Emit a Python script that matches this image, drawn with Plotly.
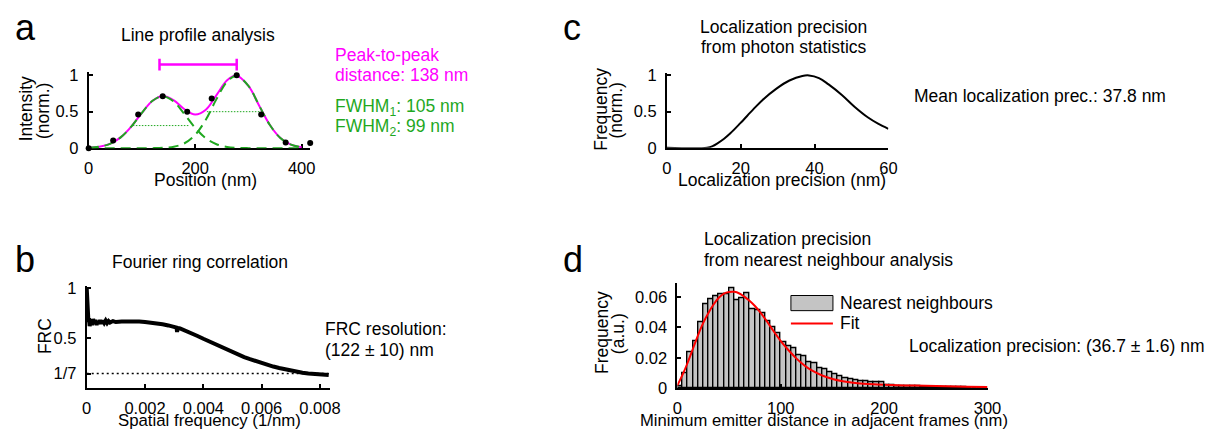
import plotly.graph_objects as go

W, H = 1224, 444
FONT = "Liberation Sans, Arial, sans-serif"

# ---------------- data: panel a (line profile) ----------------
profile_pos = [0, 46, 93, 139, 185, 231, 278, 324, 370, 416]
profile_int = [0.0, 0.105, 0.46, 0.71, 0.50, 0.68, 1.0, 0.46, 0.08, 0.07]
fit_pos = [0, 20, 40, 60, 80, 100, 120, 139, 160, 180, 200, 220, 240, 260, 277, 300, 320, 340, 360, 380, 400]
fit_sum = [0.006, 0.02, 0.06, 0.148, 0.296, 0.485, 0.649, 0.715, 0.656, 0.533, 0.462, 0.527, 0.727, 0.93, 0.996, 0.854, 0.586, 0.321, 0.14, 0.049, 0.013]
fit_peak1 = [0.006, 0.02, 0.06, 0.148, 0.296, 0.485, 0.649, 0.71, 0.636, 0.465, 0.279, 0.137, 0.055, 0.018, 0.006, 0.001, 0.0, 0.0, 0.0, 0.0, 0.0]
fit_peak2 = [0.0, 0.0, 0.0, 0.0, 0.0, 0.0, 0.001, 0.005, 0.02, 0.068, 0.183, 0.39, 0.672, 0.912, 0.99, 0.853, 0.586, 0.321, 0.14, 0.049, 0.013]
fwhm1_x = [83, 188]
fwhm1_y = 0.31
fwhm2_x = [222, 321]
fwhm2_y = 0.5
ptp_bar_x = [133, 278]
ptp_bar_level = 1.145

# ---------------- data: panel b (FRC) ----------------
frc_freq = [0, 0.00002, 0.00004, 0.00006, 0.00008, 0.0001, 0.00014, 0.00018, 0.00022, 0.00026,
            0.0003, 0.00034, 0.00038, 0.00042, 0.00046, 0.0005, 0.00055, 0.0006, 0.00065, 0.0007,
            0.00075, 0.0008, 0.0009, 0.001, 0.0012, 0.0014, 0.0016, 0.0018, 0.002, 0.0022,
            0.0024, 0.0026, 0.0028, 0.003, 0.00308, 0.0031, 0.00312, 0.0032, 0.0034, 0.0036,
            0.0038, 0.004, 0.0042, 0.0044, 0.0046, 0.0048, 0.005, 0.0052, 0.0054, 0.0056,
            0.0058, 0.006, 0.0062, 0.0064, 0.0066, 0.0068, 0.007, 0.0072, 0.0074, 0.0076,
            0.0078, 0.008, 0.0082, 0.0083]
frc_val = [1.0, 0.85, 0.72, 0.66, 0.70, 0.62, 0.68, 0.63, 0.69, 0.64,
           0.68, 0.63, 0.67, 0.64, 0.68, 0.645, 0.675, 0.65, 0.675, 0.65,
           0.67, 0.655, 0.67, 0.66, 0.665, 0.668, 0.667, 0.665, 0.66, 0.655,
           0.648, 0.638, 0.626, 0.612, 0.605, 0.56, 0.60, 0.595, 0.572, 0.548,
           0.52, 0.492, 0.465, 0.438, 0.41, 0.383, 0.357, 0.332, 0.308, 0.287,
           0.267, 0.249, 0.23, 0.213, 0.198, 0.184, 0.172, 0.161, 0.151, 0.144,
           0.139, 0.135, 0.131, 0.129]
frc_threshold = 1 / 7
frc_threshold_x = [0, 0.0083]

# ---------------- data: panel c (photon statistics) ----------------
prec_nm = [0, 10.9, 12.5, 13.6, 15.5, 17.2, 19.9, 23.4, 26.0, 29.6, 33.2, 36.7, 38.5, 41.2, 43.8, 47.4, 50.9, 54.5, 57.2, 60]
prec_freq = [0, 0, 0.025, 0.058, 0.125, 0.2, 0.34, 0.53, 0.665, 0.815, 0.93, 0.993, 1.0, 0.964, 0.876, 0.73, 0.564, 0.418, 0.333, 0.262]

# ---------------- data: panel d (nearest neighbour) ----------------
nn_bin_width = 5
nn_counts = [0.0015, 0.0100, 0.0240, 0.0310, 0.0435, 0.0555, 0.0585, 0.0605, 0.0615, 0.0620,
             0.0655, 0.0580, 0.0590, 0.0625, 0.0520, 0.0510, 0.0490, 0.0440, 0.0400, 0.0360,
             0.0300, 0.0280, 0.0265, 0.0215, 0.0210, 0.0170, 0.0165, 0.0135, 0.0125, 0.0105,
             0.0095, 0.0078, 0.0070, 0.0058, 0.0052, 0.0045, 0.0045, 0.0042, 0.0040, 0.0040,
             0.0022, 0.0020, 0.0018, 0.0016, 0.0015, 0.0013, 0.0012, 0.0011, 0.0010, 0.0010,
             0.0009, 0.0008, 0.0008, 0.0007, 0.0006, 0.0006, 0.0005, 0.0005, 0.0004, 0.0004]
nn_bin_centers = [nn_bin_width / 2 + nn_bin_width * i for i in range(len(nn_counts))]
nn_fit_x = [0, 5, 10, 15, 20, 25, 30, 35, 40, 45, 50, 55, 60, 65, 70, 75, 80, 85, 90, 95, 100,
            105, 110, 115, 120, 125, 130, 140, 150, 160, 170, 180, 190, 200, 220, 240, 260, 280, 300]
nn_fit_y = [0.002, 0.009, 0.017, 0.026, 0.035, 0.043, 0.0495, 0.055, 0.0594, 0.0622, 0.0632, 0.0633,
            0.0622, 0.060, 0.0573, 0.054, 0.050, 0.0455, 0.0405, 0.0357, 0.031, 0.027, 0.0232, 0.0197,
            0.0167, 0.014, 0.0118, 0.0085, 0.0062, 0.0047, 0.0037, 0.0031, 0.0027, 0.0024, 0.002,
            0.0017, 0.0014, 0.0011, 0.0009]

MAGENTA = "#ff00ff"
GREEN = "#1fa81f"
TXT = 17.5
LBL = 17.5
TICK = 16.5


def fx(px):
    return px / W


def fy(py):
    return 1 - py / H


def xaxis(l, r, rng, tickvals, anchor, ticktext=None, layer="above traces", standoff=4):
    d = dict(domain=[fx(l), fx(r)], range=rng, anchor=anchor, showline=True, linecolor="black",
             linewidth=2, ticks="inside", ticklen=4, tickwidth=1.5, tickcolor="black",
             tickvals=tickvals, showgrid=False, zeroline=False, layer=layer,
             ticklabelstandoff=standoff,
             tickfont=dict(size=TICK, color="black", family=FONT), fixedrange=True)
    if ticktext is not None:
        d["ticktext"] = ticktext
    return d


def yaxis(top, bottom, rng, tickvals, anchor, ticktext=None, layer="above traces"):
    d = xaxis(0, 1, rng, tickvals, anchor, ticktext, layer, standoff=5)
    d["domain"] = [fy(bottom), fy(top)]
    return d


fig = go.Figure()

# ---- panel a
fig.add_trace(go.Scatter(x=fit_pos, y=fit_sum, mode="lines", line=dict(color=MAGENTA, width=2, shape="spline"),
                         xaxis="x", yaxis="y", showlegend=False))
for g in (fit_peak1, fit_peak2):
    fig.add_trace(go.Scatter(x=fit_pos, y=g, mode="lines",
                             line=dict(color=GREEN, width=2, dash="10px,6px", shape="spline"),
                             xaxis="x", yaxis="y", showlegend=False))
fig.add_trace(go.Scatter(x=fwhm1_x, y=[fwhm1_y, fwhm1_y], mode="lines",
                         line=dict(color=GREEN, width=1, dash="1.5px,1.5px"), xaxis="x", yaxis="y", showlegend=False))
fig.add_trace(go.Scatter(x=fwhm2_x, y=[fwhm2_y, fwhm2_y], mode="lines",
                         line=dict(color=GREEN, width=1, dash="1.5px,1.5px"), xaxis="x", yaxis="y", showlegend=False))
fig.add_trace(go.Scatter(x=profile_pos, y=profile_int, mode="markers", marker=dict(color="black", size=6),
                         cliponaxis=False, xaxis="x", yaxis="y", showlegend=False))
cap = 0.08
fig.add_trace(go.Scatter(
    x=[ptp_bar_x[0], ptp_bar_x[0], None, ptp_bar_x[0], ptp_bar_x[1], None, ptp_bar_x[1], ptp_bar_x[1]],
    y=[ptp_bar_level - cap, ptp_bar_level + cap, None, ptp_bar_level, ptp_bar_level, None,
       ptp_bar_level - cap, ptp_bar_level + cap],
    mode="lines", line=dict(color=MAGENTA, width=2.5), xaxis="x5", yaxis="y5", showlegend=False))

# ---- panel b
fig.add_trace(go.Scatter(x=frc_threshold_x, y=[frc_threshold, frc_threshold], mode="lines",
                         line=dict(color="black", width=1.5, dash="2px,3px"), xaxis="x2", yaxis="y2", showlegend=False))
fig.add_trace(go.Scatter(x=frc_freq, y=frc_val, mode="lines", line=dict(color="black", width=4),
                         xaxis="x2", yaxis="y2", showlegend=False))

# ---- panel c
fig.add_trace(go.Scatter(x=prec_nm, y=prec_freq, mode="lines", line=dict(color="black", width=2, shape="spline"),
                         xaxis="x3", yaxis="y3", showlegend=False))

# ---- panel d
fig.add_trace(go.Bar(x=nn_bin_centers, y=nn_counts, width=nn_bin_width,
                     marker=dict(color="#c4c4c4", line=dict(color="black", width=1.4)),
                     xaxis="x4", yaxis="y4", name="Nearest neighbours", showlegend=False))
fig.add_trace(go.Scatter(x=nn_fit_x, y=nn_fit_y, mode="lines", line=dict(color="#ff0000", width=2, shape="spline"),
                         xaxis="x4", yaxis="y4", name="Fit", showlegend=False))

layout = dict(
    width=W, height=H, margin=dict(l=0, r=0, t=0, b=0), paper_bgcolor="white", plot_bgcolor="rgba(0,0,0,0)",
    font=dict(family=FONT, color="black", size=TXT), bargap=0,
    xaxis=xaxis(85, 310, [0, 416], [0, 200, 400], "y", layer="below traces"),
    yaxis=yaxis(67, 146.5, [0, 79.5 / 75.8], [0, 0.5, 1], "x", ["0", "0.5", "1"], layer="below traces"),
    xaxis5=dict(domain=[fx(85), fx(310)], range=[0, 416], anchor="y5", visible=False, fixedrange=True),
    yaxis5=dict(domain=[fy(146.5), fy(40)], range=[0, 106.5 / 75.8], anchor="x5", visible=False, fixedrange=True),
    xaxis2=xaxis(83, 330, [0, 0.00834], [0, 0.002, 0.004, 0.006, 0.008], "y2",
                 ["0", "0.002", "0.004", "0.006", "0.008"]),
    yaxis2=yaxis(289, 395, [0, 106 / 103.3], [frc_threshold, 0.5, 1], "x2", ["1/7", "0.5", "1"]),
    xaxis3=xaxis(672.3, 897.3, [0, 60], [0, 20, 40, 60], "y3"),
    yaxis3=yaxis(68, 146, [0, 78 / 75], [0, 0.5, 1], "x3", ["0", "0.5", "1"]),
    xaxis4=xaxis(683, 998, [0, 300], [0, 100, 200, 300], "y4"),
    yaxis4=yaxis(286.5, 395.7, [0, 109.2 / 1583], [0, 0.02, 0.04, 0.06], "x4", ["0", "0.02", "0.04", "0.06"]),
)


def ann(text, x, y, size=TXT, color="black", xanchor="center", angle=0):
    return dict(text=text, x=fx(x), y=fy(y), xref="paper", yref="paper", xanchor=xanchor, yanchor="middle",
                showarrow=False, textangle=angle, font=dict(size=size, color=color, family=FONT))


anns = [
    # panel letters
    ann("a", 8, 21.5, 36, xanchor="left"),
    ann("b", 8, 262, 36, xanchor="left"),
    ann("c", 565, 21.5, 36, xanchor="left"),
    ann("d", 565, 262, 36, xanchor="left"),
    # titles
    ann("Line profile analysis", 196, 29.5),
    ann("Fourier ring correlation", 198, 265),
    ann("Localization precision", 791, 21),
    ann("from photon statistics", 791, 41.5),
    ann("Localization precision", 708, 241, xanchor="left"),
    ann("from nearest neighbour analysis", 708, 262, xanchor="left"),
    # x titles
    ann("Position (nm)", 204, 179, LBL),
    ann("Spatial frequency (1/nm)", 208, 429, 16.8),
    ann("Localization precision (nm)", 789, 179, LBL),
    ann("Minimum emitter distance in adjacent frames (nm)", 832, 429, 16.6),
    # y titles
    ann("Intensity", 21.5, 106, LBL, angle=-90),
    ann("(norm.)", 38.5, 108, LBL, angle=-90),
    ann("FRC", 40, 341, LBL, angle=-90),
    ann("Frequency", 606, 106, LBL, angle=-90),
    ann("(norm.)", 621, 107, LBL, angle=-90),
    ann("Frequency", 606.5, 338, LBL, angle=-90),
    ann("(a.u.)", 622, 339, LBL, angle=-90),
    # side texts
    ann("Peak-to-peak", 333, 50, color=MAGENTA, xanchor="left"),
    ann("distance: 138 nm", 333, 70.5, color=MAGENTA, xanchor="left"),
    ann("FWHM<sub>1</sub>: 105 nm", 333, 104.5, color=GREEN, xanchor="left"),
    ann("FWHM<sub>2</sub>: 99 nm", 333, 125.5, color=GREEN, xanchor="left"),
    ann("FRC resolution:", 323, 333.7, xanchor="left"),
    ann("(122 ± 10) nm", 323, 356, xanchor="left"),
    ann("Mean localization prec.: 37.8 nm", 921, 92.3, xanchor="left"),
    ann("Localization precision: (36.7 ± 1.6) nm", 916.5, 351.8, xanchor="left"),
    # legend labels
    ann("Nearest neighbours", 846.5, 307.5, xanchor="left"),
    ann("Fit", 846.5, 328.3, xanchor="left"),
]
layout["annotations"] = anns
layout["shapes"] = [
    dict(type="rect", xref="paper", yref="paper", x0=fx(798.3), x1=fx(841), y0=fy(315), y1=fy(299.3),
         fillcolor="#c4c4c4", line=dict(color="black", width=1)),
    dict(type="line", xref="paper", yref="paper", x0=fx(798.3), x1=fx(841), y0=fy(328.3), y1=fy(328.3),
         line=dict(color="#ff0000", width=2)),
]
fig.update_layout(**layout)
fig.write_html("out.html")
